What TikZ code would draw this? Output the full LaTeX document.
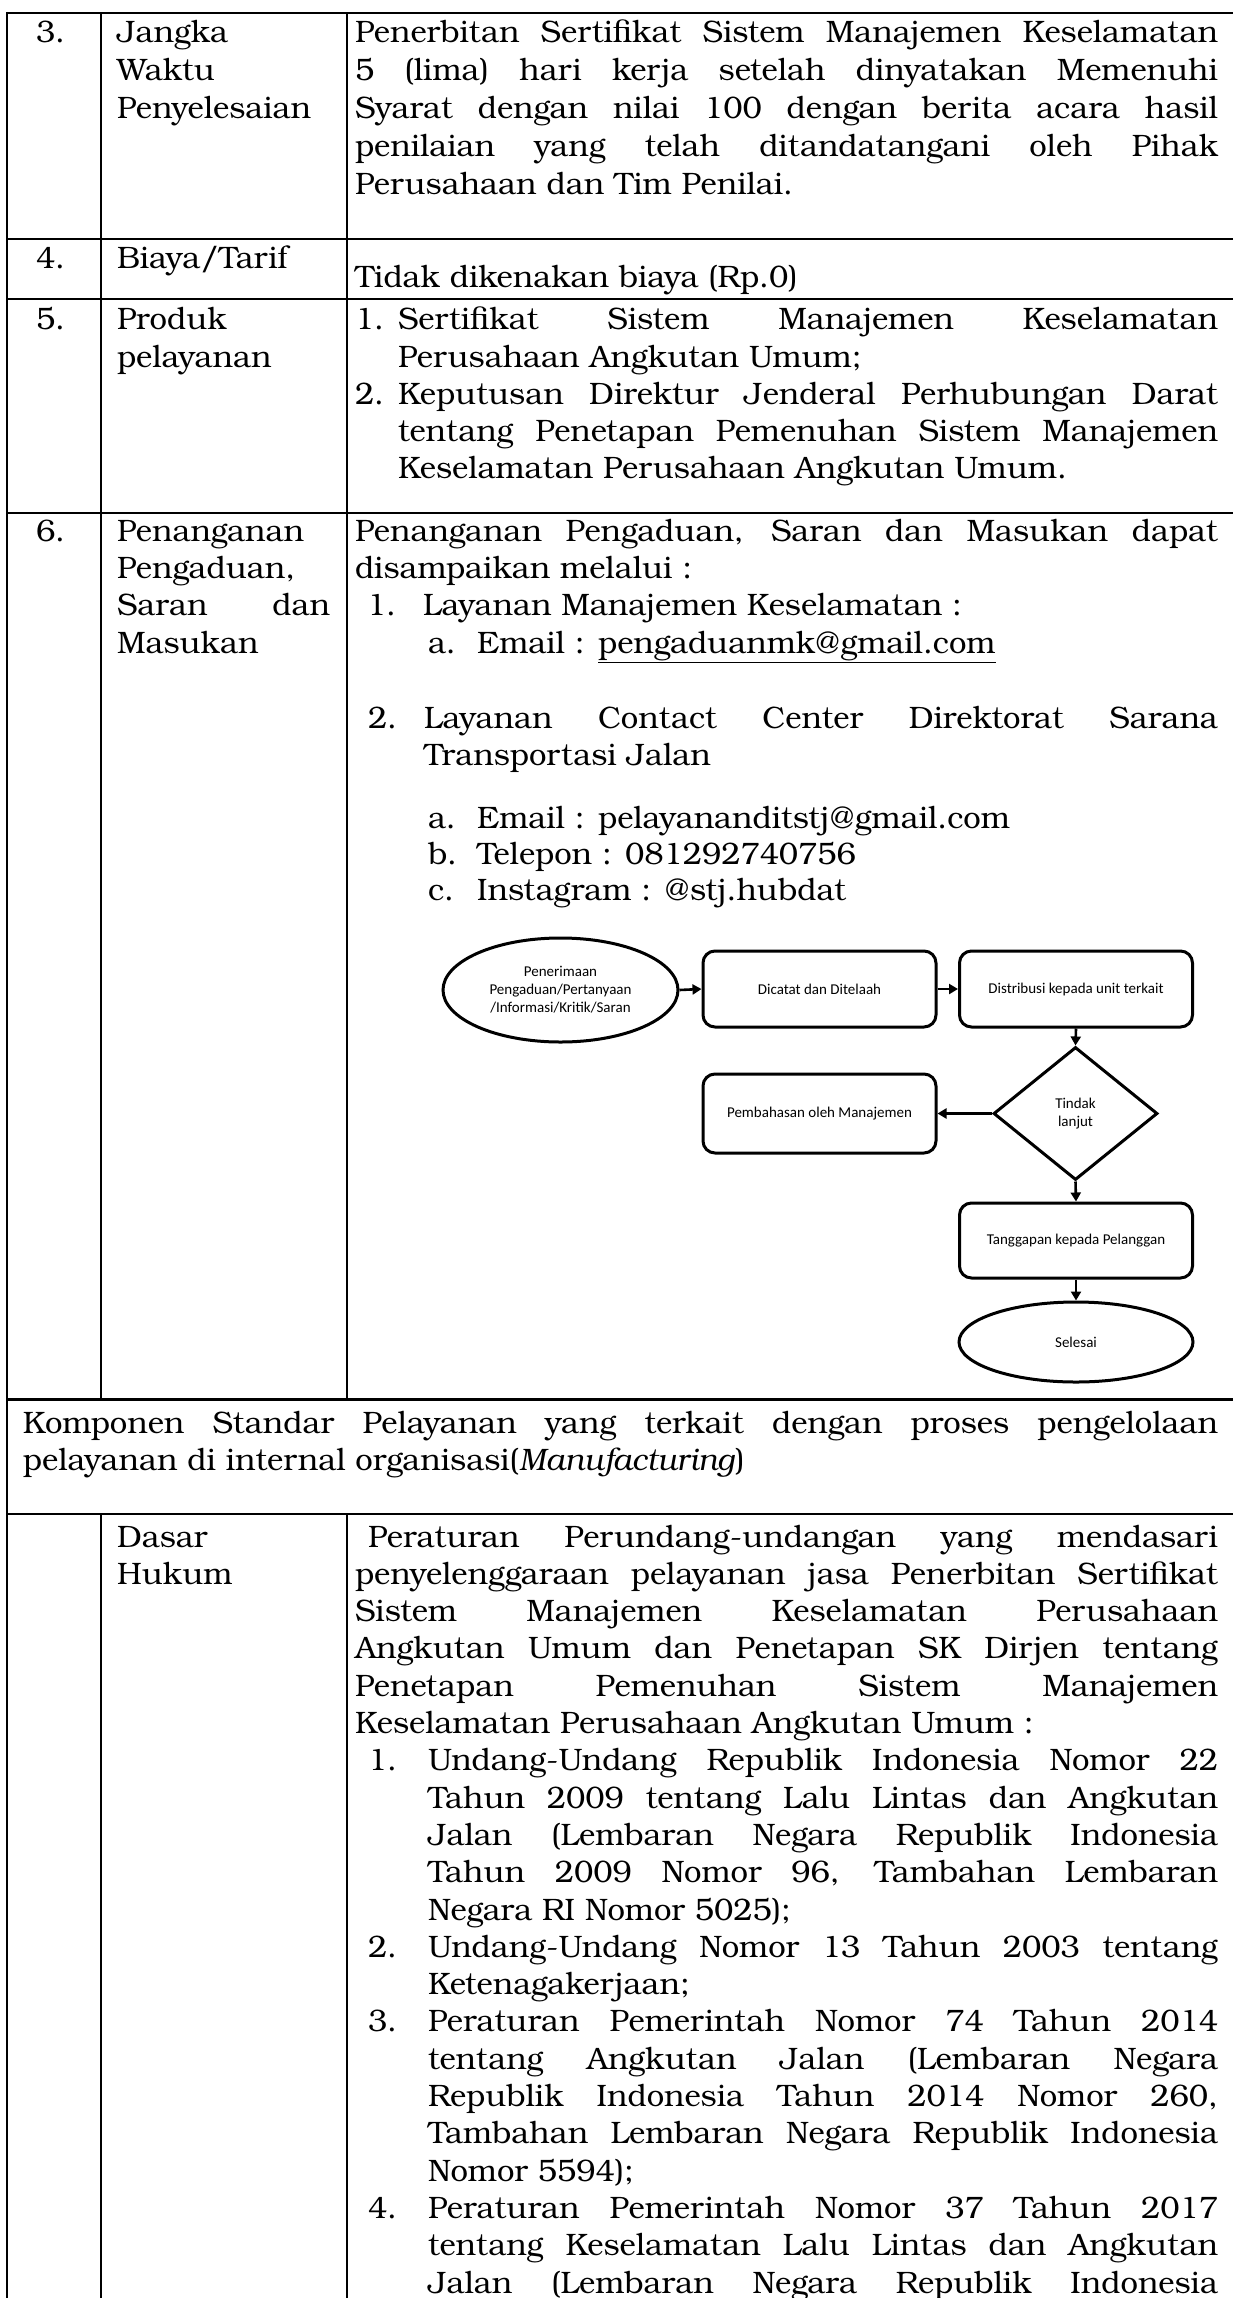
\documentclass[tikz,border=0pt]{standalone}
\usepackage{fontspec}
\setmainfont{TeX Gyre Bonum}
\newfontfamily\calfont{Carlito}
\usetikzlibrary{shapes.geometric,arrows.meta}
\newcommand\bk{\fontsize{31}{37}\selectfont}
\newcommand\fc{\calfont\fontsize{15}{18}\selectfont}
\newcommand\JL[4]{\node[txt] (#1) at (#2,#3) {\makebox[\dimexpr1218pt-#2pt\relax][s]{#4}};}
\newcommand\LL[4]{\node[txt] (#1) at (#2,#3) {#4};}
\begin{document}
\begin{tikzpicture}[x=1pt,y=-1pt,
  txt/.style={anchor=base west,inner sep=0pt,outer sep=0pt,font=\bk},
  gridline/.style={line width=2.2pt},
  fbox/.style={draw,line width=3pt,rounded corners=12pt,minimum width=233pt,inner sep=0pt,font=\fc,align=center},
  fell/.style={draw,ellipse,line width=3pt,inner sep=0pt,font=\fc,align=center},
  fdia/.style={draw,diamond,line width=3pt,inner sep=0pt,font=\fc,align=center},
  arr/.style={line width=2.6pt,-{Triangle[length=9pt,width=10pt]}}]
\fill[white] (0,0) rectangle (1233,2298);
\useasboundingbox (0,0) rectangle (1233,2298);
% table grid
\draw[gridline] (7,13) -- (1233,13);
\foreach \yy in {238.7,299.3,513,1399.5,1514} {\draw[gridline] (7,\yy) -- (1233,\yy);}
\draw[gridline] (7,12) -- (7,2298);
\draw[gridline] (100.7,13) -- (100.7,1399.5);
\draw[gridline] (100.7,1514) -- (100.7,2298);
\draw[gridline] (347.3,13) -- (347.3,1399.5);
\draw[gridline] (347.3,1514) -- (347.3,2298);
% row 3
\LL{n3}{36}{43}{3.}
\LL{a1}{117}{43}{Jangka}
\LL{a2}{117}{81}{Waktu}
\LL{a3}{117}{119}{Penyelesaian}
\JL{b1}{355}{43}{Penerbitan Sertifikat Sistem Manajemen Keselamatan}
\JL{b2}{355}{81}{5 (lima) hari kerja setelah dinyatakan Memenuhi}
\JL{b3}{355}{119}{Syarat dengan nilai 100 dengan berita acara hasil}
\JL{b4}{355}{157}{penilaian yang telah ditandatangani oleh Pihak}
\LL{b5}{355}{195}{Perusahaan dan Tim Penilai.}
% row 4
\LL{n4}{36}{269}{4.}
\LL{c1}{117}{269}{Biaya/Tarif}
\LL{c2}{355}{288}{Tidak dikenakan biaya (Rp.0)}
% row 5
\LL{n5}{36}{330}{5.}
\LL{d1}{117}{330}{Produk}
\LL{d2}{117}{367}{pelayanan}
\LL{e0}{355}{330}{1.}
\JL{e1}{398}{330}{Sertifikat Sistem Manajemen Keselamatan}
\LL{e2}{398}{367}{Perusahaan Angkutan Umum;}
\LL{e3}{355}{404}{2.}
\JL{e4}{398}{404}{Keputusan Direktur Jenderal Perhubungan Darat}
\JL{e5}{398}{441}{tentang Penetapan Pemenuhan Sistem Manajemen}
\LL{e6}{398}{478}{Keselamatan Perusahaan Angkutan Umum.}
% row 6
\LL{n6}{36}{541}{6.}
\LL{f1}{117}{541}{Penanganan}
\LL{f2}{117}{578}{Pengaduan,}
\node[txt] (f3) at (117,615) {\makebox[213pt][s]{Saran dan}};
\LL{f4}{117}{653}{Masukan}
\JL{g1}{355}{541}{Penanganan Pengaduan, Saran dan Masukan dapat}
\LL{g2}{355}{578}{disampaikan melalui :}
\LL{g3}{367}{615}{1.}
\LL{g4}{423}{615}{Layanan Manajemen Keselamatan :}
\LL{g5}{428}{653}{a.}
\LL{g6}{477}{653}{Email : \underline{pengaduanmk@gmail.com}}
\LL{g7}{368}{728}{2.}
\JL{g8}{424}{728}{Layanan Contact Center Direktorat Sarana}
\LL{g9}{424}{765}{Transportasi Jalan}
\LL{h1}{428}{828}{a.}
\LL{h2}{477}{828}{Email : pelayananditstj@gmail.com}
\LL{h3}{428}{864}{b.}
\LL{h4}{477}{864}{Telepon : 081292740756}
\LL{h5}{428}{900}{c.}
\LL{h6}{477}{900}{Instagram : @stj.hubdat}
% flowchart
\node[fell,minimum width=235pt,minimum height=104pt] (p1) at (560.5,990) {Penerimaan\\Pengaduan/Pertanyaan\\/Informasi/Kritik/Saran};
\node[fbox,minimum height=76pt] (p2) at (819.5,989) {Dicatat dan Ditelaah};
\node[fbox,minimum height=76pt] (p3) at (1076,989) {Distribusi kepada unit terkait};
\node[fdia,minimum width=164pt,minimum height=133pt] (p4) at (1075.5,1113.5) {Tindak\\lanjut};
\node[fbox,minimum height=79pt] (p5) at (819.5,1113.5) {Pembahasan oleh Manajemen};
\node[fbox,minimum height=75pt] (p6) at (1076,1240.5) {Tanggapan kepada Pelanggan};
\node[fell,minimum width=234pt,minimum height=80pt] (p7) at (1076,1342) {Selesai};
\draw[arr] (p1.east) -- (p2.west);
\draw[arr] (p2.east) -- (p3.west);
\draw[arr] (p3.south) -- (p4.north);
\draw[arr] (p4.west) -- (p5.east);
\draw[arr] (p4.south) -- (p6.north);
\draw[arr] (p6.south) -- (p7.north);
% komponen row
\JL{k1}{23}{1433}{Komponen Standar Pelayanan yang terkait dengan proses pengelolaan}
\LL{k2}{23}{1470}{pelayanan di internal organisasi(\textit{Manufacturing})}
% dasar hukum
\LL{m1}{117}{1547}{Dasar}
\LL{m2}{117}{1584}{Hukum}
\JL{q0}{368}{1547}{Peraturan Perundang-undangan yang mendasari}
\JL{q1}{355}{1584.3}{penyelenggaraan pelayanan jasa Penerbitan Sertifikat}
\JL{q2}{355}{1621.6}{Sistem Manajemen Keselamatan Perusahaan}
\JL{q3}{355}{1658.9}{Angkutan Umum dan Penetapan SK Dirjen tentang}
\JL{q4}{355}{1696.2}{Penetapan Pemenuhan Sistem Manajemen}
\LL{q5}{355}{1733.5}{Keselamatan Perusahaan Angkutan Umum :}
\LL{r0}{368}{1770.8}{1.}
\JL{r1}{428}{1770.8}{Undang-Undang Republik Indonesia Nomor 22}
\JL{r2}{428}{1808.1}{Tahun 2009 tentang Lalu Lintas dan Angkutan}
\JL{r3}{428}{1845.4}{Jalan (Lembaran Negara Republik Indonesia}
\JL{r4}{428}{1882.7}{Tahun 2009 Nomor 96, Tambahan Lembaran}
\LL{r5}{428}{1920}{Negara RI Nomor 5025);}
\LL{s0}{368}{1957.3}{2.}
\JL{s1}{428}{1957.3}{Undang-Undang Nomor 13 Tahun 2003 tentang}
\LL{s2}{428}{1994.6}{Ketenagakerjaan;}
\LL{u0}{368}{2031.9}{3.}
\JL{u1}{428}{2031.9}{Peraturan Pemerintah Nomor 74 Tahun 2014}
\JL{u2}{428}{2069.2}{tentang Angkutan Jalan (Lembaran Negara}
\JL{u3}{428}{2106.5}{Republik Indonesia Tahun 2014 Nomor 260,}
\JL{u4}{428}{2143.8}{Tambahan Lembaran Negara Republik Indonesia}
\LL{u5}{428}{2181.1}{Nomor 5594);}
\LL{v0}{368}{2218.4}{4.}
\JL{v1}{428}{2218.4}{Peraturan Pemerintah Nomor 37 Tahun 2017}
\JL{v2}{428}{2255.7}{tentang Keselamatan Lalu Lintas dan Angkutan}
\JL{v3}{428}{2293}{Jalan (Lembaran Negara Republik Indonesia}
\end{tikzpicture}
\end{document}
